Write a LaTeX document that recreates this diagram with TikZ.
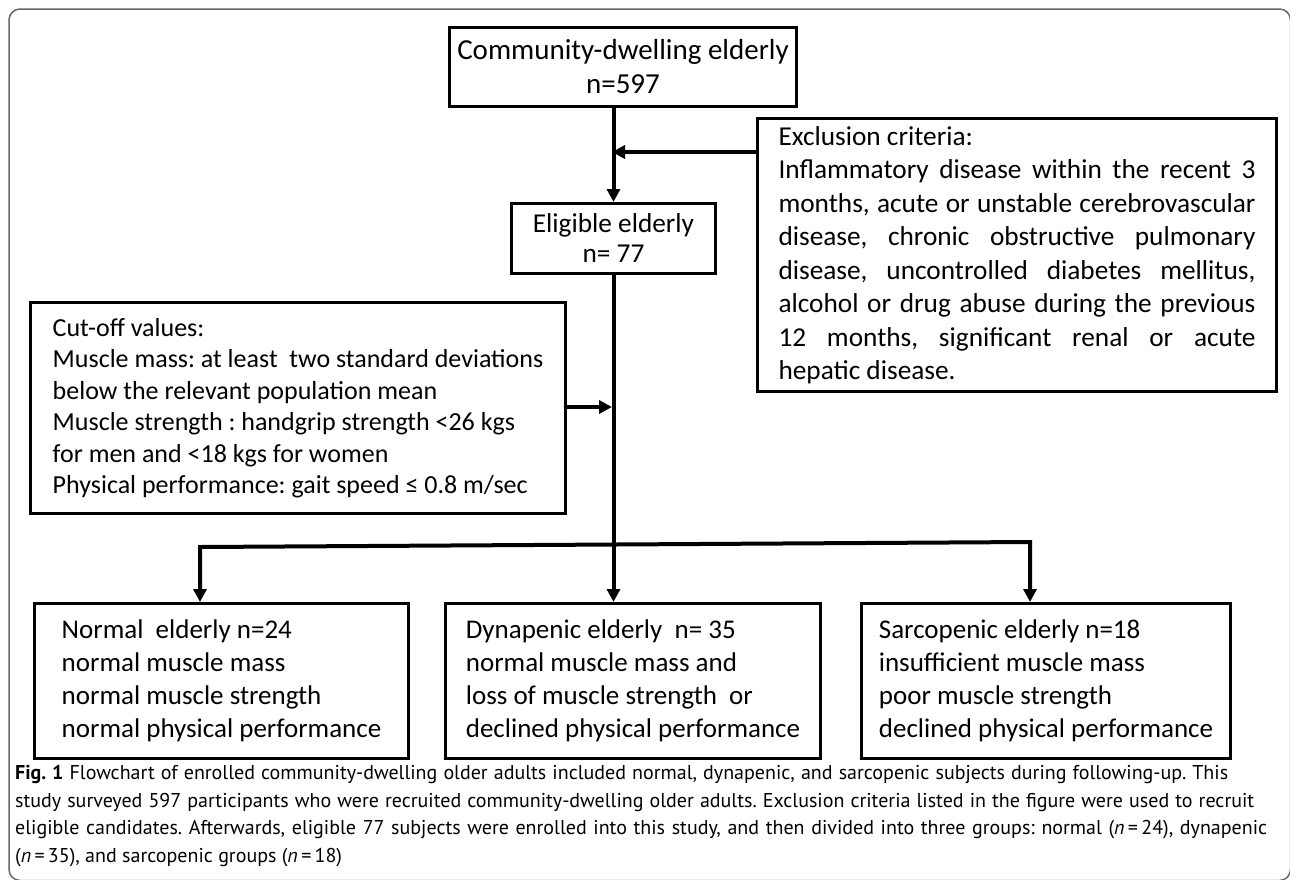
\documentclass[tikz,border=0pt]{standalone}
\usepackage{fontspec}
\setmainfont{Carlito}
\newfontfamily\capfont{PT Sans}
\usetikzlibrary{arrows.meta}
\hyphenpenalty=10000
\exhyphenpenalty=10000
\tolerance=10000
\hbadness=10000
\frenchspacing
\begin{document}
\begin{tikzpicture}[x=1pt,y=-1pt,
  box/.style={draw=black, line width=3pt, inner sep=0pt, anchor=north west},
  conn/.style={line width=4pt, black},
  tip/.tip={Triangle[length=13pt,width=13pt]},
  arr/.style={conn, -tip}
]
\useasboundingbox (0,0) rectangle (1290,879);
\clip (0,0) rectangle (1290,879);
\draw[line width=1.5pt, black!60, rounded corners=11pt] (9,9) rectangle (1290.5,880.5);

\node[box, minimum width=347pt, minimum height=79pt, align=center,
      font=\fontsize{29}{34}\selectfont] (top) at (448,26)
  {Community-dwelling elderly\\n=597};

\node[box, minimum width=519pt, minimum height=273pt, text width=477pt, align=justify,
      font=\fontsize{27.3}{33.5}\selectfont] (excl) at (756,117)
  {Exclusion criteria:\newline
   Inflammatory disease within the recent 3\linebreak
   months, acute or unstable cerebrovascular\linebreak
   disease, chronic obstructive pulmonary\linebreak
   disease, uncontrolled diabetes mellitus,\linebreak
   alcohol or drug abuse during the previous\linebreak
   12 months, significant renal or acute\linebreak
   hepatic disease.};

\node[box, minimum width=204pt, minimum height=70pt, align=center,
      font=\fontsize{27.3}{30}\selectfont] (elig) at (510,202)
  {Eligible elderly\\n= 77};

\node[box, minimum width=535pt, minimum height=211pt, align=left,
      font=\fontsize{26}{31.5}\selectfont] (cut) at (29,301)
  {Cut-off values:\\
   Muscle mass: at least\ \ two standard deviations\\
   below the relevant population mean\\
   Muscle strength : handgrip strength <26 kgs\\
   for men and <18 kgs for women\\
   Physical performance: gait speed ≤ 0.8 m/sec};

\node[box, minimum width=374pt, minimum height=155pt, align=left,
      font=\fontsize{27}{33}\selectfont] (normal) at (33,602)
  {Normal\ \ elderly n=24\\normal muscle mass\\normal muscle strength\\normal physical performance};

\node[box, minimum width=375pt, minimum height=155pt, align=left,
      font=\fontsize{27}{33}\selectfont] (dyn) at (444,602)
  {Dynapenic elderly\ \ n= 35\\normal muscle mass and\\loss of muscle strength\ \ or\\declined physical performance};

\node[box, minimum width=369pt, minimum height=155pt, align=left,
      font=\fontsize{27}{33}\selectfont] (sarc) at (860,602)
  {Sarcopenic elderly n=18\\insufficient muscle mass\\poor muscle strength\\declined physical performance};

\node[anchor=north west, inner sep=0pt, align=left,
      font=\capfont\fontsize{20}{27.6}\selectfont] (cap) at (15,765)
  {\hbox to 1213pt{\textbf{Fig. 1} Flowchart of enrolled community-dwelling older adults included normal, dynapenic, and sarcopenic subjects during following-up. This}\\
   \hbox to 1239pt{study surveyed 597 participants who were recruited community-dwelling older adults. Exclusion criteria listed in the figure were used to recruit}\\
   \hbox to 1252pt{eligible candidates. Afterwards, eligible 77 subjects were enrolled into this study, and then divided into three groups: normal (\textit{n}\,=\,24), dynapenic}\\
   (\textit{n}\,=\,35), and sarcopenic groups (\textit{n}\,=\,18)};

\coordinate (ea) at (612,152);
\coordinate (ca) at (612,407);
\coordinate (bl) at (200,547);
\coordinate (br) at (1030,542);

\draw[arr] (top.south -| elig.north) -- (elig.north);
\draw[arr] (excl.west |- ea) -- (ea);
\draw[arr] (elig.south) -- (elig.south |- dyn.north);
\draw[arr] (cut.east |- ca) -- (ca);
\draw[conn, tip-tip] (bl |- normal.north) -- (bl) -- (br) -- (br |- sarc.north);
\end{tikzpicture}
\end{document}
